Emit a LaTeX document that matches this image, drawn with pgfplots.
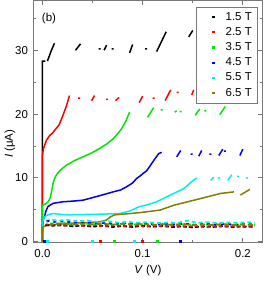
\documentclass[border=0pt]{standalone}
\usepackage{fontspec}
\setmainfont{Liberation Sans}
\usepackage{pgfplots}
\pgfplotsset{compat=1.18}
\definecolor{cBlack}{RGB}{0,0,0}
\definecolor{cRed}{RGB}{255,0,0}
\definecolor{cGreen}{RGB}{0,230,0}
\definecolor{cBlue}{RGB}{0,0,235}
\definecolor{cCyan}{RGB}{0,240,240}
\definecolor{cOlive}{RGB}{128,128,0}
\definecolor{frame}{RGB}{120,120,120}
\newcommand{\fs}{\fontsize{11.5}{13.8}\selectfont}
\pgfplotsset{sqleg/.style={/pgfplots/legend image code/.code={\path[draw=none,fill=none] (0,0) -- (24bp,0); \path[##1,draw=none,fill] (14bp-1.1bp,-1.1bp) rectangle (14bp+1.1bp,1.1bp);}}}
\begin{document}
\begin{tikzpicture}
\begin{axis}[name=ax, scale only axis, width=229.5bp, height=242bp,
  xmin=-0.0094, xmax=0.2198, ymin=-0.16, ymax=37.8,
  unbounded coords=jump,
  xtick={0,0.1,0.2}, minor xtick={0.05,0.15},
  ytick={0,10,20,30}, minor ytick={5,15,25,35},
  tick align=inside, major tick length=5bp, minor tick length=3bp,
  axis line style={frame, line width=0.9bp},
  every tick/.style={frame, line width=0.8bp},
  /pgf/number format/assume math mode=true,
  xticklabel style={/pgf/number format/fixed,/pgf/number format/fixed zerofill,/pgf/number format/precision=1, font=\fs, yshift=-3bp},
  yticklabel style={font=\fs, xshift=-1.5bp},
  scaled x ticks=false,
  xlabel={\textit{V} (V)}, ylabel={\textit{I} (μA)},
  label style={font=\fs},
  xlabel style={yshift=-1bp},
  ylabel style={at={([xshift=-23bp]rel axis cs:0,0.408)}, anchor=center},
  legend style={at={(1,1)}, anchor=north east, xshift=-5.5bp, yshift=-6.8bp, draw=frame, fill=white, font=\fs, row sep=0bp,
    nodes={inner sep=2.2bp, text height=8.3bp, text depth=2.5bp}},
  legend cell align=left,
  every axis plot/.append style={line width=1.5bp, forget plot},
]
\addlegendimage{cBlack, sqleg}\addlegendentry{1.5 T}
\addlegendimage{cRed, sqleg}\addlegendentry{2.5 T}
\addlegendimage{cGreen, sqleg}\addlegendentry{3.5 T}
\addlegendimage{cBlue, sqleg}\addlegendentry{4.5 T}
\addlegendimage{cCyan, sqleg}\addlegendentry{5.5 T}
\addlegendimage{cOlive, sqleg}\addlegendentry{6.5 T}
% ---- upper branches ----
\addplot[cBlack] coordinates {(0,0)(0,28.3)(0.003,28.3)(0.004,nan)
 (0.005,28.3)(0.0085,29.8)(0.012,31.1)(0.013,nan)
 (0.033,30.0)(0.038,31.0)(0.039,nan)
 (0.056,30.2)(0.058,30.2)(0.059,nan)
 (0.0615,30.0)(0.064,30.8)(0.065,nan)
 (0.069,30.2)(0.071,30.2)(0.072,nan)
 (0.087,29.6)(0.090,30.9)(0.091,nan)
 (0.1025,30.2)(0.1045,30.2)(0.105,nan)
 (0.114,29.8)(0.1235,32.9)(0.124,nan)
 (0.146,32.1)(0.150,33.1)(0.151,nan)
 (0.17,32.3)(0.174,33.3)(0.175,nan)
 (0.195,32.5)(0.199,33.5)};
\addplot[cRed] coordinates {(0,0)(0,13.5)(0.001,14.6)(0.004,15.9)(0.007,16.6)(0.010,17.0)(0.014,17.8)(0.0166,18.3)(0.020,19.6)(0.024,21.3)(0.027,22.9)(0.028,nan)
 (0.0355,22.5)(0.0375,22.5)(0.038,nan)
 (0.049,22.1)(0.052,22.9)(0.053,nan)
 (0.0635,22.3)(0.0655,22.3)(0.066,nan)
 (0.073,22.1)(0.0765,22.6)(0.077,nan)
 (0.0965,21.8)(0.100,22.8)(0.101,nan)
 (0.110,22.5)(0.112,22.5)(0.113,nan)
 (0.1225,22.1)(0.128,23.8)(0.129,nan)
 (0.134,23.4)(0.136,23.4)(0.137,nan)
 (0.149,23.0)(0.151,23.8)};
\addplot[cGreen] coordinates {(0,0)(0,5.7)(0.003,5.9)(0.006,6.3)(0.008,7.0)(0.0095,8.2)(0.011,9.4)(0.013,10.2)(0.0155,10.8)(0.020,11.5)(0.024,12.0)(0.032,12.7)(0.0405,13.3)(0.049,13.9)(0.057,14.6)(0.064,15.3)(0.0705,16.1)(0.075,16.9)(0.079,17.7)(0.083,18.8)(0.087,20.3)(0.088,nan)
 (0.105,19.5)(0.111,21.0)(0.112,nan)
 (0.118,20.65)(0.120,20.65)(0.121,nan)
 (0.132,20.3)(0.134,20.5)(0.135,nan)
 (0.137,20.4)(0.139,20.4)(0.140,nan)
 (0.1525,19.8)(0.157,20.8)(0.158,nan)
 (0.1615,20.5)(0.1635,20.5)(0.164,nan)
 (0.177,19.9)(0.1825,21.2)};
\addplot[cBlue] coordinates {(0,0)(0,2.6)(0.001,3.5)(0.002,3.9)(0.0035,4.8)(0.0055,5.5)(0.0105,6.0)(0.0205,6.25)(0.03,6.35)(0.0405,6.5)(0.05,6.9)(0.057,7.2)(0.0705,7.8)(0.078,8.1)(0.084,8.6)(0.09,9.2)(0.094,9.9)(0.0975,10.3)(0.1005,10.7)(0.104,11.1)(0.108,12.0)(0.111,12.7)(0.116,13.8)(0.119,14.0)(0.120,nan)
 (0.134,13.3)(0.138,14.3)(0.139,nan)
 (0.148,13.7)(0.150,13.7)(0.151,nan)
 (0.156,13.4)(0.159,14.3)(0.160,nan)
 (0.1665,13.7)(0.1685,13.7)(0.169,nan)
 (0.176,13.5)(0.180,14.5)(0.1805,nan)
 (0.181,14.2)(0.183,14.2)(0.184,nan)
 (0.197,13.5)(0.200,14.5)};
\addplot[cCyan] coordinates {(0,0)(0,2.9)(0.001,3.6)(0.003,4.0)(0.0055,4.2)(0.0105,4.4)(0.024,4.2)(0.04,4.25)(0.057,4.3)(0.077,4.4)(0.087,4.8)(0.097,5.5)(0.105,5.8)(0.114,6.25)(0.1275,7.3)(0.141,8.3)(0.149,9.4)(0.154,10.0)(0.155,nan)
 (0.168,9.6)(0.171,10.1)(0.172,nan)
 (0.175,10.0)(0.177,10.0)(0.178,nan)
 (0.185,9.6)(0.189,10.5)(0.190,nan)
 (0.194,10.25)(0.196,10.25)(0.197,nan)
 (0.203,10.0)(0.205,10.0)};
\addplot[cOlive] coordinates {(0,0)(0.0005,2.3)(0.0055,2.6)(0.024,2.85)(0.045,3.0)(0.057,3.1)(0.064,3.4)(0.068,3.9)(0.072,4.2)(0.087,4.4)(0.1,4.6)(0.1175,4.95)(0.131,5.7)(0.1475,6.35)(0.164,7.0)(0.1775,7.55)(0.191,7.8)(0.192,nan)
 (0.1975,7.3)(0.207,8.2)};
% ---- lower (retrapped) branches ----
\addplot[cBlack, line width=1.8bp, dash pattern=on 4bp off 2bp] coordinates {(0.003,2.6)(0.01,2.5)(0.02,2.6)(0.03,2.4)(0.04,2.55)(0.05,2.35)(0.06,2.5)(0.07,2.3)(0.08,2.45)(0.09,2.3)(0.1,2.5)(0.11,2.35)(0.12,2.45)(0.13,2.3)(0.14,2.4)(0.15,2.25)(0.16,2.4)(0.17,2.3)(0.18,2.45)(0.19,2.3)(0.2,2.4)(0.21,2.35)};
\addplot[cRed, line width=1.8bp, dash pattern=on 3bp off 3bp, dash phase=1bp] coordinates {(0.004,2.7)(0.012,2.6)(0.022,2.5)(0.032,2.65)(0.042,2.45)(0.052,2.6)(0.062,2.4)(0.072,2.55)(0.082,2.4)(0.092,2.55)(0.102,2.35)(0.112,2.5)(0.122,2.4)(0.132,2.5)(0.142,2.35)(0.152,2.45)(0.162,2.3)(0.172,2.45)(0.182,2.35)(0.192,2.45)(0.202,2.3)(0.212,2.4)};
\addplot[cGreen, line width=1.8bp, dash pattern=on 3bp off 3bp, dash phase=2bp] coordinates {(0.004,2.9)(0.012,2.8)(0.022,2.9)(0.032,2.7)(0.042,2.85)(0.052,2.7)(0.062,2.8)(0.072,2.65)(0.082,2.8)(0.092,2.7)(0.102,2.75)(0.112,2.6)(0.122,2.75)(0.132,2.65)(0.142,2.75)(0.152,2.6)(0.162,2.7)(0.172,2.6)(0.182,2.7)(0.192,2.6)(0.202,2.7)(0.212,2.65)};
\addplot[cBlue, line width=1.8bp, dash pattern=on 3bp off 4bp] coordinates {(0.004,3.3)(0.012,3.1)(0.022,3.2)(0.032,2.95)(0.042,3.0)(0.052,2.85)(0.062,2.95)(0.072,2.8)(0.082,2.9)(0.092,2.75)(0.102,2.85)(0.112,2.7)(0.122,2.85)(0.132,2.7)(0.142,2.8)(0.152,2.65)(0.162,2.8)(0.172,2.7)(0.182,2.8)(0.192,2.65)(0.202,2.75)(0.21,2.7)};
\addplot[cCyan, line width=1.8bp, dash pattern=on 4bp off 3bp, dash phase=3bp] coordinates {(0.006,3.5)(0.015,3.3)(0.025,3.4)(0.035,3.2)(0.045,3.3)(0.055,3.1)(0.065,3.2)(0.075,3.0)(0.085,3.1)(0.095,2.95)(0.105,3.05)(0.115,2.9)(0.125,3.0)(0.135,2.95)(0.145,3.3)(0.155,2.95)(0.165,3.05)(0.175,2.9)(0.185,3.0)(0.195,2.95)(0.205,3.05)(0.212,2.95)};
\addplot[cOlive, line width=1.8bp, dash pattern=on 5bp off 3bp, dash phase=2bp] coordinates {(0.008,2.75)(0.02,2.85)(0.03,2.7)(0.04,2.85)(0.05,2.7)(0.06,2.8)(0.07,2.65)(0.08,2.8)(0.09,2.65)(0.1,2.75)(0.11,2.6)(0.12,2.75)(0.13,2.6)(0.14,2.75)(0.15,2.6)(0.16,2.7)(0.17,2.6)(0.18,2.75)(0.19,2.6)(0.2,2.7)(0.21,2.6)(0.213,2.7)};
% ---- points at zero current ----
\addplot[cCyan, only marks, mark=square*, mark size=0.6bp] coordinates {(0.005,0)(0.05,0)(0.092,0)};
\addplot[cRed, only marks, mark=square*, mark size=0.6bp] coordinates {(0.058,0)(0.1,0)};
\addplot[cGreen, only marks, mark=square*, mark size=0.6bp] coordinates {(0.072,0)(0.115,0)};
\addplot[cBlue, only marks, mark=square*, mark size=0.6bp] coordinates {(0.002,0)(0.138,0)};
\node[font=\fs, anchor=center] at (axis cs:0.0065,35) {(b)};
\end{axis}
\pgfresetboundingbox
\path ([xshift=-33bp,yshift=-44.3bp]ax.south west) rectangle ([xshift=1.5bp,yshift=0.5bp]ax.north east);
\end{tikzpicture}
\end{document}
